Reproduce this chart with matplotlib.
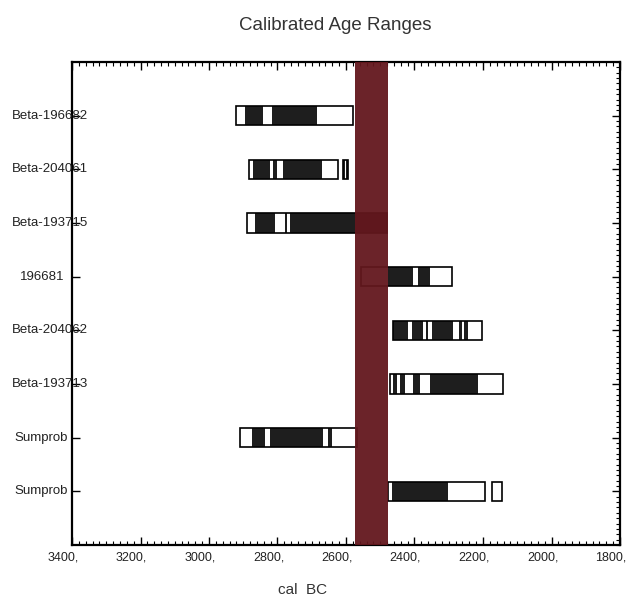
import numpy as np
import matplotlib
matplotlib.use('Agg')
import matplotlib.pyplot as plt
import matplotlib.transforms as mtransforms
from matplotlib.ticker import MultipleLocator, FixedLocator

# sample labels, top to bottom
labels = ['Beta-196682', 'Beta-204061', 'Beta-193715', '196681',
          'Beta-204062', 'Beta-193713', 'Sumprob', 'Sumprob']
label_x = [12, 12, 12, 20, 12, 12, 14, 14]   # left edge of label, pixels

# segment boundaries (cal BC) per row; fill alternates, starting with row_start
edges = [
    [2920, 2895, 2842, 2815, 2685, 2580],
    [2883, 2871, 2822, 2813, 2801, 2784, 2670, 2623],
    [2889, 2866, 2807, 2778, 2772, 2763, 2480],
    [2555, 2477, 2404, 2390, 2355, 2290],
    [2463, 2419, 2407, 2375, 2366, 2360, 2349, 2287, 2270, 2261, 2255, 2244, 2203],
    [2471, 2463, 2451, 2442, 2428, 2404, 2384, 2355, 2214, 2141],
    [2909, 2874, 2836, 2822, 2667, 2652, 2641, 2568],
    [2477, 2466, 2302, 2194],
]
row_start = ['w', 'w', 'w', 'w', 'k', 'w', 'w', 'w']

# small detached pieces: (row index, boundaries, start fill)
extra = [
    (1, [2609, 2603, 2600, 2594], 'k'),
    (7, [2174, 2144], 'w'),
]

band = (2575, 2477)   # shaded interval
xticks = [3400, 3200, 3000, 2800, 2600, 2400, 2200, 2000, 1800]

W, H = 628, 603
fig = plt.figure(figsize=(W / 100, H / 100), dpi=100)
ax = fig.add_axes([72 / W, 1 - 545 / H, 548 / W, 483 / H])

fam = ['Liberation Sans Narrow', 'Liberation Sans', 'DejaVu Sans']
bar_h = 0.36
ypos = [8 - i for i in range(len(labels))]
fillc = {'w': 'white', 'k': '#1e1e1e'}


def draw_group(y, bnds, start):
    c = start
    for a, b in zip(bnds[:-1], bnds[1:]):
        ax.barh(y, a - b, left=b, height=bar_h, color=fillc[c],
                edgecolor='none', zorder=2)
        c = 'k' if c == 'w' else 'w'
    ax.barh(y, bnds[0] - bnds[-1], left=bnds[-1], height=bar_h,
            facecolor='none', edgecolor='black', linewidth=1.2, zorder=3)


for y, e, s in zip(ypos, edges, row_start):
    draw_group(y, e, s)
for r, e, s in extra:
    draw_group(ypos[r], e, s)

ax.axvspan(band[1], band[0], color='#63171d', alpha=0.95, zorder=4, lw=0)

ax.set_xlim(3400, 1800)
ax.set_ylim(0, 9)

ax.xaxis.set_major_locator(FixedLocator(xticks))
ax.xaxis.set_minor_locator(MultipleLocator(20))
ax.set_xticklabels([])
# tick labels sit a little left of their ticks, as in the original
shift = mtransforms.ScaledTranslation(-9 / 100, -6 / 100, fig.dpi_scale_trans)
for t in xticks:
    ax.text(t, 0, '%d,' % t, transform=ax.get_xaxis_transform() + shift,
            ha='center', va='top', fontsize=9, family=fam, color='#222222')
ax.yaxis.set_major_locator(FixedLocator(ypos))
ax.yaxis.set_minor_locator(MultipleLocator(0.1))
ax.set_yticklabels([])
ax.tick_params(which='both', direction='in', top=True, right=True, color='black')
ax.tick_params(which='major', length=6, width=1)
ax.tick_params(which='minor', length=3, width=0.8, left=False)
for s in ax.spines.values():
    s.set_linewidth(1.6)

for y, lab, lx in zip(ypos, labels, label_x):
    ax.text((lx - 72) / 548, y, lab, transform=ax.get_yaxis_transform(),
            ha='left', va='center', fontsize=9.5, family=fam, color='#222222')

fig.text(335 / W, 1 - 25 / H, 'Calibrated Age Ranges', ha='center', va='center',
         fontsize=13.5, family=fam[1:], color='#333333')
fig.text(303 / W, 1 - 590 / H, 'cal  BC', ha='center', va='center',
         fontsize=11, family=fam[1:], color='#333333')

fig.savefig('out.png', dpi=100)
